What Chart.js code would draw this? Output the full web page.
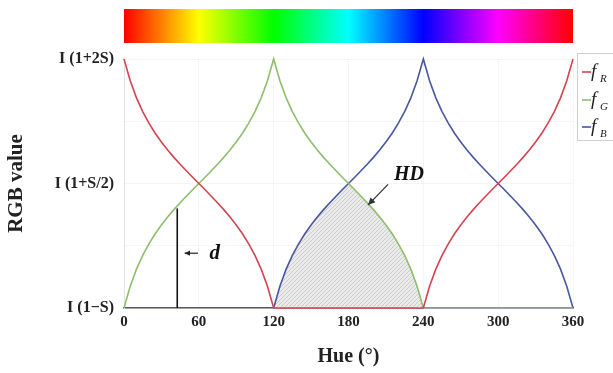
<!DOCTYPE html>
<html>
<head>
<meta charset="utf-8">
<script src="https://cdn.jsdelivr.net/npm/chart.js@4/dist/chart.umd.min.js"></script>
<style>
html,body{margin:0;padding:0;background:#fff;}
#wrap{width:613px;height:373px;position:relative;}
</style>
</head>
<body>
<div id="wrap"><canvas id="c" width="613" height="373"></canvas></div>
<script>
// ---- data (hue in degrees, values in units of S above I(1-S)) ----
const hue = [0,5,10,15,20,25,30,35,40,45,50,55,60,65,70,75,80,85,90,95,100,105,110,115,120,
  125,130,135,140,145,150,155,160,165,170,175,180,185,190,195,200,205,210,215,220,225,230,235,240,
  245,250,255,260,265,270,275,280,285,290,295,300,305,310,315,320,325,330,335,340,345,350,355,360];
const fR = [3,2.737,2.532,2.366,2.227,2.106,2.0,1.904,1.815,1.732,1.653,1.576,1.5,1.424,1.347,1.268,1.185,1.096,1.0,0.894,0.773,0.634,0.468,0.263,0,
  0,0,0,0,0,0,0,0,0,0,0,0,0,0,0,0,0,0,0,0,0,0,0,0,
  0.263,0.468,0.634,0.773,0.894,1.0,1.096,1.185,1.268,1.347,1.424,1.5,1.576,1.653,1.732,1.815,1.904,2.0,2.106,2.227,2.366,2.532,2.737,3];
const fG = [0,0.263,0.468,0.634,0.773,0.894,1.0,1.096,1.185,1.268,1.347,1.424,1.5,1.576,1.653,1.732,1.815,1.904,2.0,2.106,2.227,2.366,2.532,2.737,3,
  2.737,2.532,2.366,2.227,2.106,2.0,1.904,1.815,1.732,1.653,1.576,1.5,1.424,1.347,1.268,1.185,1.096,1.0,0.894,0.773,0.634,0.468,0.263,0,
  0,0,0,0,0,0,0,0,0,0,0,0,0,0,0,0,0,0,0,0,0,0,0,0];
const fB = [0,0,0,0,0,0,0,0,0,0,0,0,0,0,0,0,0,0,0,0,0,0,0,0,0,
  0.263,0.468,0.634,0.773,0.894,1.0,1.096,1.185,1.268,1.347,1.424,1.5,1.576,1.653,1.732,1.815,1.904,2.0,2.106,2.227,2.366,2.532,2.737,3,
  2.737,2.532,2.366,2.227,2.106,2.0,1.904,1.815,1.732,1.653,1.576,1.5,1.424,1.347,1.268,1.185,1.096,1.0,0.894,0.773,0.634,0.468,0.263,0];
// overlap region HD (hue 120..240)
const hdHue = [120,125,130,135,140,145,150,155,160,165,170,175,180,185,190,195,200,205,210,215,220,225,230,235,240];
const hdValues = [0,0.263,0.468,0.634,0.773,0.894,1.0,1.096,1.185,1.268,1.347,1.424,1.5,1.424,1.347,1.268,1.185,1.096,1.0,0.894,0.773,0.634,0.468,0.263,0];
// distance marker d
const dHue = [42.7, 42.7];
const dValues = [0, 1.2];
// axis ticks
const xTicks = [0,60,120,180,240,300,360];
const yTickValues = [0,1.5,3];
const yTickLabels = ['I (1\u2212S)','I (1+S/2)','I (1+2S)'];
const seriesNames = ['R','G','B'];
// colour bar hue stops
const hueStops = [0,60,120,180,240,300,360];

const colR = '#d4434f', colG = '#8fbd6e', colB = '#4a56a3';

function pts(xs, ys){ return xs.map((x,i)=>({x:x,y:ys[i]})); }

// hatch pattern
const pc = document.createElement('canvas'); pc.width = 4; pc.height = 4;
const pctx = pc.getContext('2d');
pctx.fillStyle = '#ebebeb'; pctx.fillRect(0,0,4,4);
pctx.strokeStyle = '#bdbdbd'; pctx.lineWidth = 0.7;
pctx.beginPath(); pctx.moveTo(-1,5); pctx.lineTo(5,-1); pctx.stroke();
const hatch = pctx.createPattern(pc,'repeat');

const serif = "'Liberation Serif','Times New Roman',serif";

const decor = {
  id:'decor',
  beforeDraw(chart){
    const ctx = chart.ctx, a = chart.chartArea;
    const g = ctx.createLinearGradient(a.left,0,a.right,0);
    hueStops.forEach(h=>g.addColorStop(h/360,'hsl('+h+',100%,50%)'));
    ctx.save(); ctx.fillStyle = g; ctx.fillRect(a.left, 9, a.right-a.left, 34); ctx.restore();
  },
  afterDraw(chart){
    const ctx = chart.ctx, xs = chart.scales.x, ys = chart.scales.y;
    const X = v=>xs.getPixelForValue(v), Y = v=>ys.getPixelForValue(v);
    ctx.save();
    // HD label + arrow
    ctx.fillStyle = '#111';
    ctx.font = "italic bold 20px " + serif;
    ctx.textAlign = 'center'; ctx.textBaseline = 'middle';
    ctx.fillText('HD', X(228.5), Y(1.6));
    function arrow(x1,y1,x2,y2,hl){
      ctx.beginPath(); ctx.moveTo(x1,y1); ctx.lineTo(x2,y2); ctx.stroke();
      const ang = Math.atan2(y2-y1,x2-x1);
      ctx.beginPath(); ctx.moveTo(x2,y2);
      ctx.lineTo(x2-hl*Math.cos(ang-0.45), y2-hl*Math.sin(ang-0.45));
      ctx.lineTo(x2-hl*Math.cos(ang+0.45), y2-hl*Math.sin(ang+0.45));
      ctx.closePath(); ctx.fill();
    }
    ctx.strokeStyle = '#333'; ctx.fillStyle = '#333'; ctx.lineWidth = 1.3;
    arrow(X(211.7), Y(1.49), X(195.6), Y(1.24), 8);
    // d label
    ctx.strokeStyle = '#222'; ctx.fillStyle = '#222'; ctx.lineWidth = 1.2;
    arrow(X(59.3), Y(0.66), X(48.6), Y(0.66), 6);
    ctx.fillStyle = '#111';
    ctx.textAlign = 'left';
    ctx.font = "italic bold 21px " + serif;
    ctx.fillText('d', X(68.5), Y(0.65));
    // legend box
    ctx.strokeStyle = '#cfcfcf'; ctx.lineWidth = 1;
    ctx.strokeRect(577.5, 53.5, 50, 87);
    const cols = [colR,colG,colB], ly = [72,100,127];
    for(let i=0;i<3;i++){
      ctx.strokeStyle = cols[i]; ctx.lineWidth = 1.6;
      ctx.beginPath(); ctx.moveTo(582, ly[i]); ctx.lineTo(591, ly[i]); ctx.stroke();
      ctx.fillStyle = '#222'; ctx.textAlign = 'left'; ctx.textBaseline = 'alphabetic';
      ctx.font = "italic 19px " + serif;
      ctx.fillText('f', 591, ly[i]+5);
      ctx.font = "italic 11px " + serif;
      ctx.fillText(seriesNames[i], 600, ly[i]+10);
    }
    ctx.restore();
  }
};

new Chart(document.getElementById('c'), {
  type:'line',
  data:{
    datasets:[
      {label:'d', data:pts(dHue,dValues), borderColor:'#111', borderWidth:1.6, pointRadius:0, tension:0, fill:false, clip:3},
      {label:'fR', data:pts(hue,fR), borderColor:colR, borderWidth:1.6, pointRadius:0, tension:0, fill:false, clip:3},
      {label:'fG', data:pts(hue,fG), borderColor:colG, borderWidth:1.6, pointRadius:0, tension:0, fill:false, clip:{left:3,right:3,top:3,bottom:0}},
      {label:'fB', data:pts(hue,fB), borderColor:colB, borderWidth:1.6, pointRadius:0, tension:0, fill:false, clip:{left:3,right:3,top:3,bottom:0}},
      {label:'HD', data:pts(hdHue,hdValues), borderWidth:0, borderColor:'rgba(0,0,0,0)', backgroundColor:hatch, pointRadius:0, tension:0, fill:'origin'}
    ]
  },
  options:{
    responsive:false, animation:false, devicePixelRatio:1,
    layout:{padding:{top:59,right:40,left:0,bottom:0}},
    plugins:{legend:{display:false}, tooltip:{enabled:false}},
    scales:{
      x:{
        type:'linear', min:0, max:360,
        afterFit(s){ s.height = 65; },
        afterBuildTicks(s){ s.ticks = xTicks.map(v=>({value:v})); },
        ticks:{font:{family:serif, size:15, weight:'bold'}, color:'#222', padding:5, maxRotation:0},
        grid:{color:'rgba(0,0,0,0.04)', drawTicks:false},
        border:{color:'#555', width:1.5},
        title:{display:true, text:'Hue (\u00b0)', font:{family:serif, size:20, weight:'bold'}, color:'#222', padding:{top:4,bottom:4}}
      },
      y:{
        min:0, max:3,
        afterFit(s){ s.width = 124; },
        ticks:{stepSize:0.75, font:{family:serif, size:16, weight:'bold'}, color:'#222', padding:10,
          callback(v){ const i = yTickValues.indexOf(v); return i>=0 ? yTickLabels[i] : ''; }},
        grid:{color:'rgba(0,0,0,0.04)', drawTicks:false},
        border:{color:'#e2e2e2', width:1},
        title:{display:true, text:'RGB value', font:{family:serif, size:21, weight:'bold'}, color:'#222', padding:{top:4,bottom:4}}
      }
    }
  },
  plugins:[decor]
});
</script>
</body>
</html>
